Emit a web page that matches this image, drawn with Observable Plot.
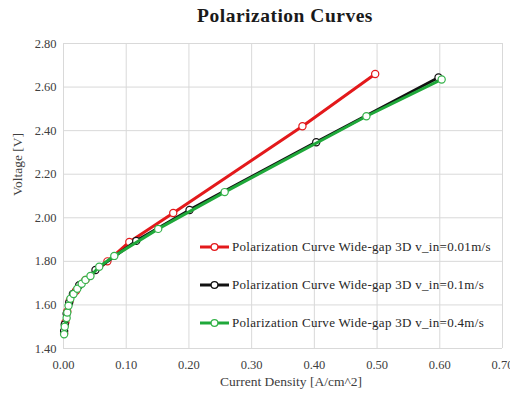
<!DOCTYPE html>
<html><head><meta charset="utf-8">
<script src="https://cdn.jsdelivr.net/npm/d3@7"></script>
<script src="https://cdn.jsdelivr.net/npm/@observablehq/plot@0.6"></script>
<style>
body{margin:0;background:#fff;font-family:"Liberation Serif",serif;}
#wrap{position:relative;width:510px;height:395px;overflow:hidden;}
#title{position:absolute;left:0;width:570px;top:5px;text-align:center;font-weight:bold;font-size:19.5px;letter-spacing:0.5px;color:#1a1a1a;}
#legend{position:absolute;left:200px;top:228px;font-size:13px;letter-spacing:0.3px;color:#262626;}
.li{display:flex;align-items:center;height:38px;}
.li svg{margin-right:3px;}
</style></head>
<body><div id="wrap"><div id="title">Polarization Curves</div><div id="chart"></div><div id="legend"></div></div>
<script>
const seriesNames = [
  "Polarization Curve Wide-gap 3D v_in=0.01m/s",
  "Polarization Curve Wide-gap 3D v_in=0.1m/s",
  "Polarization Curve Wide-gap 3D v_in=0.4m/s"
];
const seriesColors = ["#e3191b", "#111111", "#1fa83a"];
const redX = [0.001,0.003,0.006,0.010,0.020,0.035,0.070,0.105,0.175,0.381,0.497];
const redY = [1.47,1.52,1.57,1.62,1.665,1.715,1.80,1.889,2.022,2.42,2.66];
const blackX = [0.001,0.002,0.005,0.009,0.015,0.025,0.051,0.116,0.201,0.403,0.598];
const blackY = [1.48,1.51,1.56,1.61,1.65,1.69,1.76,1.894,2.036,2.347,2.644];
const greenX = [0.001,0.002,0.005,0.006,0.008,0.011,0.016,0.022,0.029,0.035,0.043,0.057,0.081,0.151,0.257,0.483,0.603];
const greenY = [1.465,1.50,1.54,1.565,1.596,1.628,1.65,1.674,1.697,1.715,1.733,1.775,1.825,1.949,2.118,2.466,2.635];
const xTicks = [0,0.1,0.2,0.3,0.4,0.5,0.6,0.7];
const yTicks = [1.4,1.6,1.8,2.0,2.2,2.4,2.6,2.8];
const xLabel = "Current Density [A/cm^2]";
const yLabel = "Voltage [V]";

const mk = (xs, ys, s) => xs.map((x,i)=>({x, y: ys[i], s}));
const data = [
  ...mk(redX, redY, seriesNames[0]),
  ...mk(blackX, blackY, seriesNames[1]),
  ...mk(greenX, greenY, seriesNames[2])
];
const font = "Liberation Serif";
const marks = [
  Plot.gridX(xTicks, {stroke:"#d9d9d9", strokeOpacity:1}),
  Plot.gridY(yTicks, {stroke:"#d9d9d9", strokeOpacity:1}),
  Plot.axisX(xTicks, {tickSize:0, tickPadding:12, tickFormat:d3.format(".2f"), fontSize:12.5, color:"#404040", label:null, fontFamily:font}),
  Plot.axisY(yTicks, {tickSize:0, tickPadding:7, tickFormat:d3.format(".2f"), fontSize:12.5, color:"#404040", label:null, fontFamily:font}),
  Plot.text([xLabel], {frameAnchor:"bottom", dx:8, dy:37, text:d=>d, fontSize:13.5, fill:"#404040", fontFamily:font}),
  Plot.text([yLabel], {frameAnchor:"left", dx:-46, rotate:-90, text:d=>d, fontSize:13.5, fill:"#404040", fontFamily:font})
];
seriesNames.forEach((n,i)=>{
  const d = data.filter(p=>p.s===n);
  marks.push(Plot.line(d, {x:"x", y:"y", stroke:seriesColors[i], strokeWidth:3}));
  marks.push(Plot.dot(d, {x:"x", y:"y", r:3.6, fill:"white", stroke:i===2?"#35b34a":seriesColors[i], strokeWidth:1.2}));
});
const chart = Plot.plot({
  width:510, height:395,
  marginLeft:63, marginRight:8, marginTop:43, marginBottom:47,
  x:{domain:[0,0.7]}, y:{domain:[1.4,2.8]},
  style:{background:"transparent", fontFamily:font},
  marks
});
document.getElementById("chart").appendChild(chart);
const lg = document.getElementById("legend");
seriesNames.forEach((n,i)=>{
  const row = document.createElement("div"); row.className="li";
  row.innerHTML = `<svg width="29" height="10"><line x1="0" y1="5" x2="29" y2="5" stroke="${seriesColors[i]}" stroke-width="3"/><circle cx="14.5" cy="5" r="3.4" fill="white" stroke="${i===2?"#35b34a":seriesColors[i]}" stroke-width="1.2"/></svg><span>${n}</span>`;
  lg.appendChild(row);
});
</script></body></html>
